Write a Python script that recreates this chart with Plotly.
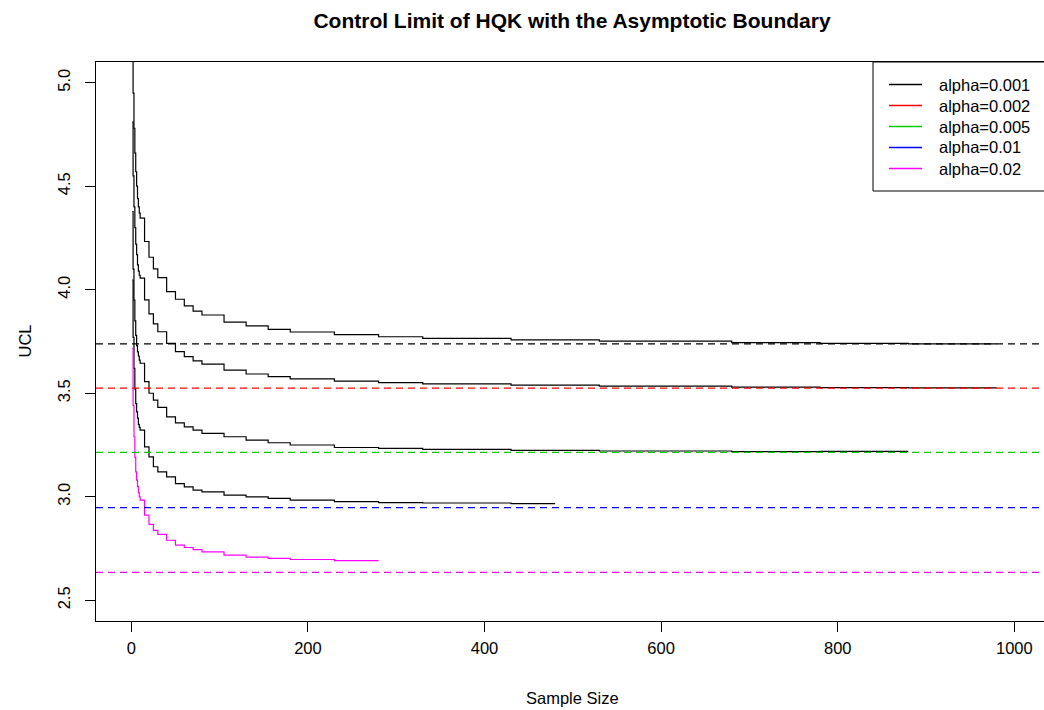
import plotly.graph_objects as go

# ---------------- data ----------------
alphas = ["alpha=0.001", "alpha=0.002", "alpha=0.005", "alpha=0.01", "alpha=0.02"]
asymptotes = [3.739, 3.525, 3.214, 2.948, 2.635]

n_early = [1, 2, 3, 4, 5, 6, 7, 8, 9]
early_001 = [5.25, 4.95, 4.78, 4.66, 4.57, 4.50, 4.44, 4.40, 4.37]
early_002 = [4.81, 4.55, 4.40, 4.30, 4.22, 4.17, 4.12, 4.09, 4.07]
early_005 = [4.378, 4.10, 3.95, 3.85, 3.78, 3.73, 3.70, 3.68, 3.66]
early_01 = [4.047, 3.77, 3.62, 3.52, 3.45, 3.41, 3.38, 3.35, 3.335]
early_02 = [3.717, 3.44, 3.29, 3.19, 3.12, 3.08, 3.05, 3.02, 3.00]

step_n = [10, 15, 20, 25, 30, 40, 50, 60, 70, 80, 105, 130, 155, 180,
          230, 280, 330, 430, 530, 680, 780, 880]
steps_001 = [4.346, 4.233, 4.157, 4.101, 4.059, 3.991, 3.954, 3.922, 3.897,
             3.878, 3.844, 3.825, 3.809, 3.796, 3.783, 3.773, 3.765, 3.758,
             3.752, 3.745, 3.741, 3.739]
steps_002 = [4.056, 3.951, 3.883, 3.835, 3.797, 3.741, 3.701, 3.677, 3.656,
             3.641, 3.612, 3.593, 3.580, 3.569, 3.559, 3.551, 3.545, 3.539,
             3.534, 3.530, 3.527, 3.526]
steps_005 = [3.645, 3.556, 3.500, 3.467, 3.432, 3.386, 3.357, 3.338, 3.322,
             3.306, 3.290, 3.274, 3.261, 3.250, 3.238, 3.234, 3.229, 3.224,
             3.221, 3.218, 3.219]
steps_01 = [3.322, 3.241, 3.193, 3.145, 3.120, 3.096, 3.064, 3.048, 3.032,
            3.024, 3.008, 3.000, 2.992, 2.984, 2.977, 2.972, 2.970, 2.967]
steps_02 = [2.984, 2.911, 2.867, 2.838, 2.818, 2.790, 2.766, 2.755, 2.745,
            2.734, 2.718, 2.709, 2.702, 2.697, 2.692]
end_n = [980, 980, 880, 480, 280]

curve_colors = ["black", "black", "black", "black", "magenta"]
line_colors = ["black", "red", "#00CD00", "blue", "magenta"]

x_ticks = [0, 200, 400, 600, 800, 1000]
y_ticks = [2.5, 3.0, 3.5, 4.0, 4.5, 5.0]

# ---------------- figure ----------------
FONT = "Liberation Sans, Arial, Helvetica, sans-serif"
W, H = 1044, 710
L, R, T, B = 96, 0, 62, 89
PW, PH = W - L - R, H - T - B


def px_x(px):
    return (px - L) / PW


def px_y(py):
    return 1 - (py - T) / PH


fig = go.Figure()

early = [early_001, early_002, early_005, early_01, early_02]
steps = [steps_001, steps_002, steps_005, steps_01, steps_02]
for i in range(5):
    k = len(steps[i])
    xs = n_early + step_n[:k] + [end_n[i]]
    ys = early[i] + steps[i] + [steps[i][-1]]
    fig.add_trace(go.Scatter(x=xs, y=ys, mode="lines", line_shape="hv",
                             line=dict(color=curve_colors[i], width=1.2),
                             name=alphas[i], showlegend=False,
                             hoverinfo="skip"))

for i in range(5):
    fig.add_hline(y=asymptotes[i], line=dict(color=line_colors[i], width=1.2,
                                             dash="7px,5px"))

# legend (R-style box at the top-right corner, running past the right edge)
fig.add_shape(type="rect", xref="paper", yref="paper", x0=px_x(873),
              x1=1.02, y0=px_y(191), y1=1.0,
              line=dict(color="black", width=1), fillcolor="white",
              layer="above")
annotations = []
row_y = [84.5, 105.5, 126.5, 147.5, 168.5]
for i in range(5):
    fig.add_shape(type="line", xref="paper", yref="paper",
                  x0=px_x(889), x1=px_x(922), y0=px_y(row_y[i]),
                  y1=px_y(row_y[i]),
                  line=dict(color=line_colors[i], width=1.3), layer="above")
    annotations.append(dict(text=alphas[i], xref="paper", yref="paper",
                            x=px_x(937), y=px_y(row_y[i]), xanchor="left",
                            yanchor="middle", showarrow=False,
                            font=dict(family=FONT, size=16.5, color="black")))

annotations += [
    dict(text="Sample Size", xref="paper", yref="paper",
         x=px_x(572), y=px_y(698), xanchor="center",
         yanchor="middle", showarrow=False,
         font=dict(family=FONT, size=16.5, color="black")),
    dict(text="UCL", xref="paper", yref="paper", x=px_x(24),
         y=0.5, xanchor="center", yanchor="middle", textangle=-90,
         showarrow=False, font=dict(family=FONT, size=16.5, color="black")),
]

fig.update_layout(
    width=W, height=H,
    margin=dict(l=L, r=R, t=T, b=B),
    paper_bgcolor="white", plot_bgcolor="white",
    font=dict(family=FONT, size=16.5, color="black"),
    title=dict(text="<b>Control Limit of HQK with the Asymptotic Boundary</b>",
               font=dict(family=FONT, size=21, color="black"),
               xref="container", x=572 / W, xanchor="center",
               yref="container", y=1 - 21 / H, yanchor="middle"),
    showlegend=False,
    xaxis=dict(range=[-40, -40 + PW / 0.883], tickvals=x_ticks,
               showgrid=False, zeroline=False, showline=True, mirror=True,
               linecolor="black", linewidth=1, ticks="outside", ticklen=10,
               tickcolor="black", tickwidth=1, ticklabelstandoff=2,
               tickfont=dict(family=FONT, size=16.5, color="black")),
    yaxis=dict(range=[2.4, 5.1], tickvals=y_ticks, tickformat=".1f",
               tickangle=-90,
               showgrid=False, zeroline=False, showline=True, mirror=False,
               linecolor="black", linewidth=1, ticks="outside", ticklen=10,
               tickcolor="black", tickwidth=1, ticklabelstandoff=8,
               tickfont=dict(family=FONT, size=16.5, color="black")),
    annotations=annotations,
)

fig.write_html("out.html")
